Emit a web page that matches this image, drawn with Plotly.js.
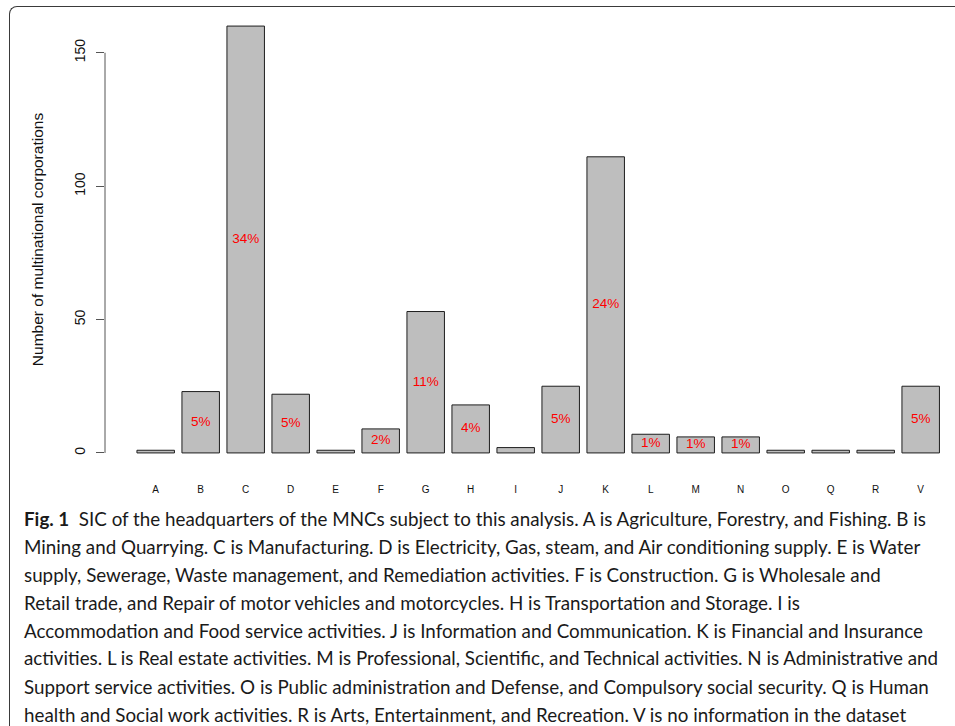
<!DOCTYPE html>
<html>
<head>
<meta charset="utf-8">
<script src="https://cdn.plot.ly/plotly-3.0.1.min.js"></script>
<style>
  html, body { margin: 0; padding: 0; background: #fff; overflow: hidden; }
  #wrap { position: relative; width: 955px; height: 726px; }
  #chart { position: absolute; left: 0; top: 0; width: 955px; height: 726px; }
  #frame {
    position: absolute; left: 9px; top: 6px; width: 980px; height: 760px;
    border-left: 1.5px solid #3a3a3a; border-top: 1.5px solid #3a3a3a;
    border-top-left-radius: 8px; pointer-events: none; box-sizing: border-box;
  }
</style>
</head>
<body>
<div id="wrap">
  <div id="chart"></div>
  <div id="frame"></div>
</div>
<script>
// Standard Industrial Classification section of each MNC headquarters
const sicCodes = ['A','B','C','D','E','F','G','H','I','J','K','L','M','N','O','Q','R','V'];
const mncCounts = [1, 23, 160, 22, 1, 9, 53, 18, 2, 25, 111, 7, 6, 6, 1, 1, 1, 25];
const yTicks = [0, 50, 100, 150];
const yTitle = 'Number of multinational corporations';

const captionLead = 'Fig. 1';
const captionLines = [
  'SIC of the headquarters of the MNCs subject to this analysis. A is Agriculture, Forestry, and Fishing. B is',
  'Mining and Quarrying. C is Manufacturing. D is Electricity, Gas, steam, and Air conditioning supply. E is Water',
  'supply, Sewerage, Waste management, and Remediation activities. F is Construction. G is Wholesale and',
  'Retail trade, and Repair of motor vehicles and motorcycles. H is Transportation and Storage. I is',
  'Accommodation and Food service activities. J is Information and Communication. K is Financial and Insurance',
  'activities. L is Real estate activities. M is Professional, Scientific, and Technical activities. N is Administrative and',
  'Support service activities. O is Public administration and Defense, and Compulsory social security. Q is Human',
  'health and Social work activities. R is Arts, Entertainment, and Recreation. V is no information in the dataset'
];

// share of all firms, printed in the middle of each bar when it rounds to at least 1%
const total = mncCounts.reduce((a, b) => a + b, 0);
const shareText = mncCounts.map(v => {
  const p = Math.round(v / total * 100);
  return p >= 1 ? p + '%' : '';
});
const midHeights = mncCounts.map(v => v / 2);

// page geometry (pixels)
const W = 955, H = 726;
const M = { l: 105, r: 0, t: 9, b: 256 };
const plotW = W - M.l - M.r, plotH = H - M.t - M.b;
const firstCentre = 155.7, step = 45;
const toPaperX = px => (px - M.l) / plotW;
const toPaperY = py => (H - M.b - py) / plotH;

const chartFont = 'Liberation Sans, Arial, Helvetica, sans-serif';
const captionFont = 'Lato, Open Sans, sans-serif';

const bars = {
  type: 'bar',
  x: sicCodes,
  y: mncCounts,
  marker: { color: '#bebebe', line: { color: '#1e1e1e', width: 1 } },
  hoverinfo: 'x+y'
};

const labels = {
  type: 'scatter',
  mode: 'text',
  x: sicCodes,
  y: midHeights,
  text: shareText,
  textposition: 'middle center',
  textfont: { family: chartFont, size: 13.5, color: '#ff0000' },
  hoverinfo: 'skip'
};

const annotations = [];
captionLines.forEach((line, i) => {
  const txt = i === 0 ? '<b>' + captionLead + '</b>\u00a0\u00a0' + line : line;
  annotations.push({
    xref: 'paper', yref: 'paper',
    x: toPaperX(22), y: toPaperY(518 + 28 * i),
    xanchor: 'left', yanchor: 'middle',
    showarrow: false, align: 'left',
    text: txt,
    font: { family: captionFont, size: 18.8, color: '#1a1a1a' }
  });
});

const layout = {
  width: W, height: H,
  margin: M,
  paper_bgcolor: 'rgba(0,0,0,0)',
  plot_bgcolor: 'rgba(0,0,0,0)',
  showlegend: false,
  bargap: 1 - 37.5 / step,
  xaxis: {
    type: 'category',
    range: [(M.l - firstCentre) / step, (W - M.r - firstCentre) / step],
    showline: false, showgrid: false, zeroline: false,
    ticks: 'outside', ticklen: 10, tickcolor: 'rgba(0,0,0,0)',
    tickfont: { family: chartFont, size: 10, color: '#111' },
    fixedrange: true
  },
  yaxis: {
    range: [-6.4, 166.4],
    showline: false, showgrid: false, zeroline: false,
    tickvals: yTicks,
    ticks: 'outside', ticklen: 8, tickwidth: 1, tickcolor: '#555',
    tickangle: -90,
    ticklabelstandoff: 5,
    tickfont: { family: chartFont, size: 14, color: '#111' },
    title: { text: yTitle, standoff: 24, font: { family: chartFont, size: 15.5, color: '#111' } },
    fixedrange: true
  },
  shapes: [{
    type: 'line', xref: 'paper', yref: 'y',
    x0: 0, x1: 0, y0: yTicks[0], y1: yTicks[yTicks.length - 1],
    line: { color: '#555', width: 1 }
  }],
  annotations: annotations
};

Plotly.newPlot('chart', [bars, labels], layout, { displayModeBar: false, staticPlot: true });
</script>
</body>
</html>
